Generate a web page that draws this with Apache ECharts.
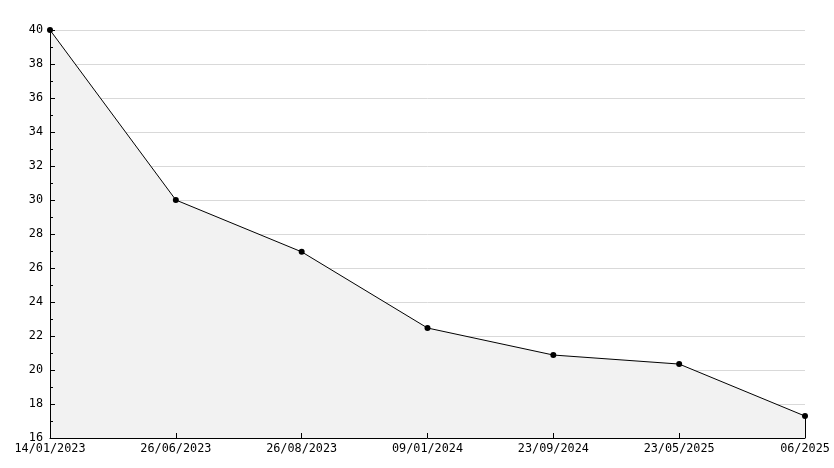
<!DOCTYPE html>
<html><head><meta charset="utf-8">
<script src="https://cdn.jsdelivr.net/npm/echarts@6/dist/echarts.min.js"></script>
<style>html,body{margin:0;padding:0;background:#fff}#c{width:834px;height:468px}</style>
</head><body><div id="c"></div>
<script>
const categories = ['14/01/2023','26/06/2023','26/08/2023','09/01/2024','23/09/2024','23/05/2025','06/2025'];
const values = [40, 30, 26.95, 22.47, 20.88, 20.35, 17.29];
const yMin = 16, yMax = 40, yStep = 2;

const chart = echarts.init(document.getElementById('c'), null, {renderer:'canvas'});
const font = 'DejaVu Sans Mono';
chart.setOption({
  animation:false,
  backgroundColor:'#fff',
  grid:{left:50,right:29,top:30,bottom:30,containLabel:false},
  xAxis:{type:'category',data:categories,boundaryGap:false,z:10,
    axisLine:{lineStyle:{color:'#000',width:1}},
    axisTick:{inside:true,length:5,lineStyle:{color:'#000'},alignWithLabel:true},
    axisLabel:{color:'#000',fontFamily:font,fontSize:11.8,margin:5,interval:0},
    splitLine:{show:false}},
  yAxis:[{type:'value',min:yMin,max:yMax,interval:yStep,z:10,
    axisLine:{show:true,lineStyle:{color:'#000',width:1}},
    axisTick:{show:true,inside:true,length:5,lineStyle:{color:'#000'}},
    minorTick:{show:true,splitNumber:2,length:3,lineStyle:{color:'#000'}},
    axisLabel:{color:'#000',fontFamily:font,fontSize:11.8,margin:7},
    splitLine:{show:false}},
    {type:'value',min:yMin,max:yMax,interval:yStep,z:0,position:'left',
    axisLine:{show:false},axisTick:{show:false},axisLabel:{show:false},
    splitLine:{show:true,lineStyle:{color:'#d9d9d9',width:1}}}],
  series:[{type:'line',data:values,symbol:'circle',symbolSize:6,z:5,
    itemStyle:{color:'#000'},lineStyle:{color:'#000',width:1},
    areaStyle:{color:'#f2f2f2',opacity:1,origin:'start'},
    markLine:{silent:true,symbol:['none','none'],label:{show:false},
      lineStyle:{color:'#000',width:1,type:'solid'},
      data:[[{coord:[categories.length-1,yMin]},{coord:[categories.length-1,values[values.length-1]]}]]}
  }]
});
</script></body></html>
